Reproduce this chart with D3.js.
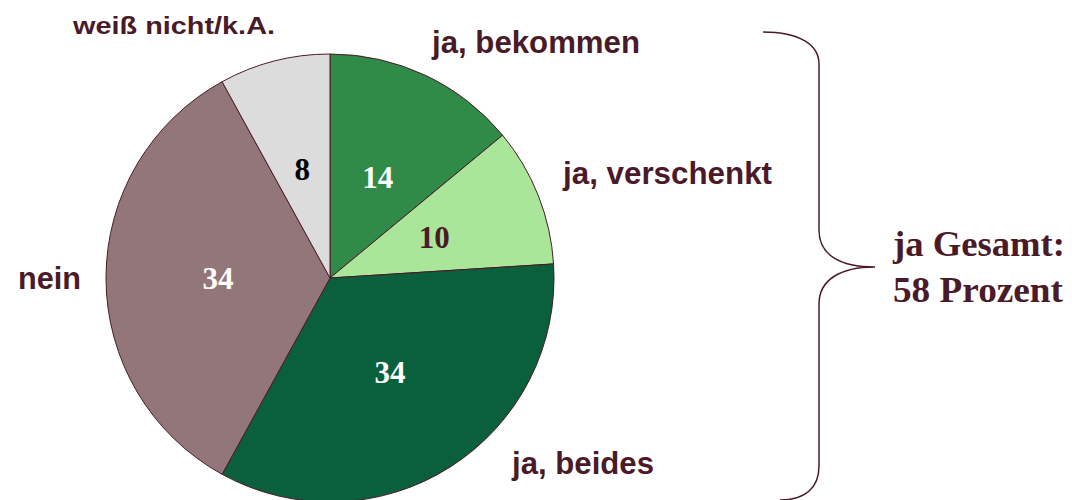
<!DOCTYPE html>
<html><head><meta charset="utf-8">
<script src="https://cdn.jsdelivr.net/npm/d3@7"></script>
<style>body{margin:0;background:#fff}svg{display:block}</style>
</head><body>
<script>
const categories = ["ja, bekommen", "ja, verschenkt", "ja, beides", "nein", "weiß nicht/k.A."];
const values = [14, 10, 34, 34, 8];
const totalLabel = ["ja Gesamt:", "58 Prozent"];

const colors = ["#2F8B47", "#A9E699", "#0A5F3D", "#937679", "#DCDCDC"];
const valueColors = ["#ffffff", "#4A1A28", "#ffffff", "#ffffff", "#000000"];
// label layout: x, baseline y, font size, optional fitted width
const catLabelPos = [[432, 53, 31, 208], [563, 184, 31, 209], [512, 474, 31, 142], [18, 289, 31, 63], [73, 34, 24, 202]];
const dark = "#4A1A28";

const W = 1072, H = 500, cx = 330, cy = 278, R = 224;
const svg = d3.select("body").append("svg").attr("width", W).attr("height", H);
const g = svg.append("g").attr("transform", `translate(${cx},${cy})`);
const pie = d3.pie().sort(null).value(d => d)(values);
const arc = d3.arc().innerRadius(0).outerRadius(R);
g.selectAll("path").data(pie).join("path")
  .attr("d", arc).attr("fill", (d, i) => colors[i])
  .attr("stroke", dark).attr("stroke-width", 1);
g.selectAll("text.v").data(pie).join("text").attr("class", "v")
  .attr("transform", d => `translate(${arc.centroid(d)})`)
  .attr("text-anchor", "middle").attr("dy", "0.35em")
  .attr("font-family", "Liberation Serif, Times New Roman, serif")
  .attr("font-weight", "bold").attr("font-size", 31)
  .attr("fill", (d, i) => valueColors[i]).text(d => d.data);

svg.selectAll("text.c").data(categories).join("text").attr("class", "c")
  .attr("x", (d, i) => catLabelPos[i][0]).attr("y", (d, i) => catLabelPos[i][1])
  .attr("font-family", "Liberation Sans, Arial, sans-serif")
  .attr("font-weight", "bold").attr("font-size", (d, i) => catLabelPos[i][2])
  .attr("textLength", (d, i) => catLabelPos[i][3])
  .attr("lengthAdjust", "spacingAndGlyphs")
  .attr("fill", dark).text(d => d);

// brace
const brace = d3.path();
brace.moveTo(763, 32);
brace.bezierCurveTo(800, 32, 819, 45, 819, 64);
brace.lineTo(819, 230);
brace.bezierCurveTo(819, 255, 840, 267, 875, 267);
brace.bezierCurveTo(840, 267, 819, 280, 819, 304);
brace.lineTo(819, 466);
brace.bezierCurveTo(819, 488, 805, 500, 780, 500);
svg.append("path").attr("d", brace.toString()).attr("fill", "none")
  .attr("stroke", dark).attr("stroke-width", 1.5);

svg.selectAll("text.t").data(totalLabel).join("text").attr("class", "t")
  .attr("x", 893).attr("y", (d, i) => 256 + i * 46)
  .attr("font-family", "Liberation Serif, Times New Roman, serif")
  .attr("font-weight", "bold").attr("font-size", 36)
  .attr("textLength", (d, i) => [172, 170][i])
  .attr("lengthAdjust", "spacingAndGlyphs")
  .attr("fill", dark).text(d => d);
</script>
</body></html>
